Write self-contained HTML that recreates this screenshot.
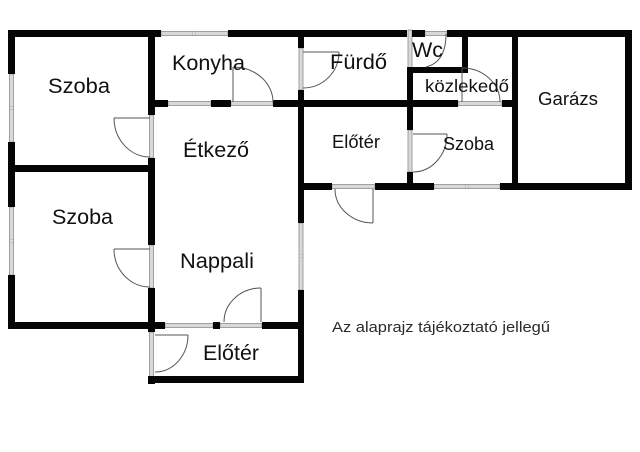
<!DOCTYPE html>
<html>
<head>
<meta charset="utf-8">
<style>
  html, body { margin:0; padding:0; background:#fff; }
  svg { display:block; }
  text { font-family: "Liberation Sans", Arial, sans-serif; fill:#111; }
</style>
</head>
<body>
<svg width="640" height="452" viewBox="0 0 640 452" xmlns="http://www.w3.org/2000/svg">
  <rect x="0" y="0" width="640" height="452" fill="#fff"/>

  <!-- Openings (windows / door thresholds) -->
  <g fill="#d9d9d9" stroke="#8c8c8c" stroke-width="0.8">
    <!-- horizontal, top wall -->
    <rect x="161" y="31.5" width="67" height="4"/>
    <rect x="425" y="31.5" width="22" height="4"/>
    <!-- horizontal y 100-107 -->
    <rect x="168" y="101.5" width="43" height="4"/>
    <rect x="231" y="101.5" width="42" height="4"/>
    <rect x="458" y="101.5" width="44" height="4"/>
    <!-- horizontal y 183-189 -->
    <rect x="332" y="184.5" width="43" height="4"/>
    <rect x="434" y="184.5" width="66" height="4"/>
    <!-- horizontal y 322-329 -->
    <rect x="165" y="323.5" width="48" height="4"/>
    <rect x="220" y="323.5" width="42" height="4"/>
    <!-- vertical left outer -->
    <rect x="9.5" y="74" width="4" height="68"/>
    <rect x="9.5" y="207" width="4" height="68"/>
    <!-- vertical x 148-155 -->
    <rect x="149.5" y="115" width="4" height="43"/>
    <rect x="149.5" y="245" width="4" height="43"/>
    <rect x="149.5" y="332" width="4" height="45"/>
    <!-- vertical x 298-304 -->
    <rect x="299" y="48" width="4" height="42"/>
    <rect x="299" y="223" width="4" height="67"/>
    <!-- vertical x 407-413 -->
    <rect x="408" y="30" width="4" height="43"/>
    <rect x="408" y="130" width="4" height="42"/>
  </g>
  <!-- window dividers -->
  <g fill="#fff" stroke="#8c8c8c" stroke-width="0.6">
    <rect x="193" y="31.5" width="2" height="4"/>
    <rect x="466" y="184.5" width="2" height="4"/>
    <rect x="9.5" y="107" width="4" height="2"/>
    <rect x="9.5" y="240" width="4" height="2"/>
    <rect x="299" y="255" width="4" height="2"/>
  </g>

  <!-- Walls -->
  <g fill="#050505">
    <!-- top -->
    <rect x="8" y="30" width="153" height="7"/>
    <rect x="228" y="30" width="179" height="7"/>
    <rect x="412" y="30" width="13" height="7"/>
    <rect x="447" y="30" width="185" height="7"/>
    <!-- left outer -->
    <rect x="8" y="30" width="7" height="44"/>
    <rect x="8" y="142" width="7" height="65"/>
    <rect x="8" y="275" width="7" height="54"/>
    <!-- Szoba bottom & divider -->
    <rect x="8" y="322" width="147" height="7"/>
    <rect x="8" y="165" width="147" height="7"/>
    <!-- x 148-155 -->
    <rect x="148" y="30" width="7" height="85"/>
    <rect x="148" y="158" width="7" height="87"/>
    <rect x="148" y="288" width="7" height="44"/>
    <rect x="148" y="377" width="7" height="7"/>
    <!-- Nappali bottom -->
    <rect x="155" y="322" width="10" height="7"/>
    <rect x="213" y="322" width="7" height="7"/>
    <rect x="262" y="322" width="42" height="7"/>
    <!-- Előtér bottom -->
    <rect x="148" y="376" width="156" height="7"/>
    <!-- x 298-304 -->
    <rect x="298" y="30" width="6" height="18"/>
    <rect x="298" y="90" width="6" height="133"/>
    <rect x="298" y="290" width="6" height="93"/>
    <!-- y 100-107 -->
    <rect x="155" y="100" width="13" height="7"/>
    <rect x="211" y="100" width="20" height="7"/>
    <rect x="273" y="100" width="185" height="7"/>
    <rect x="502" y="100" width="16" height="7"/>
    <!-- Wc -->
    <rect x="462" y="30" width="6" height="43"/>
    <rect x="412" y="67" width="56" height="6"/>
    <!-- x 407-413 -->
    <rect x="407" y="67" width="6" height="63"/>
    <rect x="407" y="172" width="6" height="17"/>
    <!-- y 183-189 -->
    <rect x="298" y="183" width="34" height="7"/>
    <rect x="375" y="183" width="59" height="7"/>
    <rect x="500" y="183" width="132" height="7"/>
    <!-- Garázs -->
    <rect x="512" y="30" width="6" height="160"/>
    <rect x="625" y="30" width="7" height="160"/>
  </g>

  <!-- Doors -->
  <g fill="none" stroke="#555" stroke-width="1">
    <!-- Konyha -->
    <line x1="233" y1="67" x2="233" y2="102"/>
    <path d="M233,67 A40,35 0 0,1 273,102"/>
    <!-- Szoba 1 -->
    <line x1="114" y1="118" x2="150" y2="118"/>
    <path d="M114,118 A36,39 0 0,0 150,157"/>
    <!-- Szoba 2 -->
    <line x1="114" y1="249" x2="150" y2="249"/>
    <path d="M114,249 A36,38 0 0,0 150,287"/>
    <!-- Nappali -->
    <line x1="261" y1="288" x2="261" y2="322"/>
    <path d="M261,288 A37,34 0 0,0 224,322"/>
    <!-- Előtér bottom -->
    <line x1="155" y1="335" x2="188" y2="335"/>
    <path d="M188,335 A33,37 0 0,1 155,372"/>
    <!-- Fürdő -->
    <line x1="303" y1="52" x2="339" y2="52"/>
    <path d="M339,52 A36,36 0 0,1 303,88"/>
    <!-- Előtér middle -->
    <line x1="373" y1="189" x2="373" y2="223"/>
    <path d="M335,189 A38,34 0 0,0 373,223"/>
    <!-- Szoba middle -->
    <line x1="413" y1="134" x2="447" y2="134"/>
    <path d="M447,134 A34,38 0 0,1 413,172"/>
    <!-- közlekedő -->
    <line x1="462" y1="68" x2="462" y2="102"/>
    <path d="M462,68 A38,34 0 0,1 500,102"/>
    <!-- Wc -->
    <path d="M446,34 Q446,62 426,67"/>
  </g>

  <!-- Labels -->
  <text x="48" y="93" font-size="21" textLength="62" lengthAdjust="spacingAndGlyphs">Szoba</text>
  <text x="172" y="70" font-size="21" textLength="73" lengthAdjust="spacingAndGlyphs">Konyha</text>
  <text x="183" y="157" font-size="21" textLength="66" lengthAdjust="spacingAndGlyphs">Étkező</text>
  <text x="52" y="224" font-size="21" textLength="61" lengthAdjust="spacingAndGlyphs">Szoba</text>
  <text x="180" y="268" font-size="21" textLength="74" lengthAdjust="spacingAndGlyphs">Nappali</text>
  <text x="203" y="360" font-size="21" textLength="56" lengthAdjust="spacingAndGlyphs">Előtér</text>
  <text x="330" y="69" font-size="21" textLength="57" lengthAdjust="spacingAndGlyphs">Fürdő</text>
  <text x="412" y="57" font-size="21" textLength="31" lengthAdjust="spacingAndGlyphs">Wc</text>
  <text x="425" y="92" font-size="17.5" textLength="84" lengthAdjust="spacingAndGlyphs">közlekedő</text>
  <text x="538" y="105" font-size="18.5" textLength="60" lengthAdjust="spacingAndGlyphs">Garázs</text>
  <text x="332" y="148" font-size="18.5" textLength="48" lengthAdjust="spacingAndGlyphs">Előtér</text>
  <text x="443" y="150" font-size="18.5" textLength="51" lengthAdjust="spacingAndGlyphs">Szoba</text>
  <text x="332" y="332" font-size="15" style="fill:#2a2a2a" textLength="218" lengthAdjust="spacingAndGlyphs">Az alaprajz tájékoztató jellegű</text>
</svg>
</body>
</html>
